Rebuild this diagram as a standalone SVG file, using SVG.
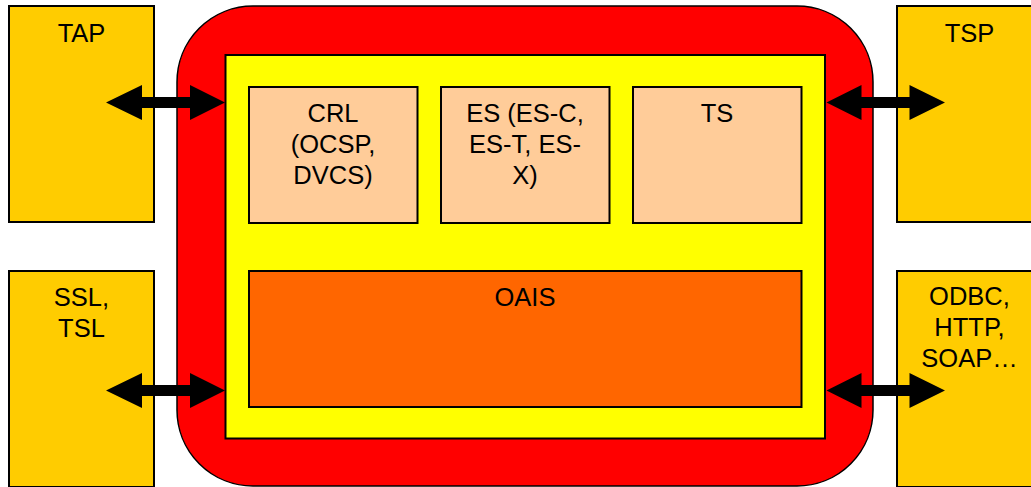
<svg xmlns="http://www.w3.org/2000/svg" width="1031" height="487" viewBox="0 0 1031 487">
<style>
.side{fill:#FFCC00;stroke:#000;stroke-width:2}
.inner{fill:#FFCC99;stroke:#000;stroke-width:2}
.t{font-family:"Liberation Sans",Arial,sans-serif;font-size:25.5px;fill:#000;text-anchor:middle}
.arr{fill:#000;stroke:none}
</style>
<rect x="0" y="0" width="1031" height="487" fill="#fff"/>
<g id="tap"><rect class="side" x="9" y="6" width="145" height="216"/><text class="t" x="81.5" y="41.5">TAP</text></g>
<g id="tsp"><rect class="side" x="897" y="6" width="145" height="216"/><text class="t" x="969.5" y="41.5">TSP</text></g>
<g id="ssl"><rect class="side" x="9" y="271" width="145" height="216"/><text class="t" x="81.5" y="305.5">SSL,</text><text class="t" x="81.5" y="336.5">TSL</text></g>
<g id="odbc"><rect class="side" x="897" y="271" width="145" height="216"/><text class="t" x="969.5" y="305">ODBC,</text><text class="t" x="969.5" y="336">HTTP,</text><text class="t" x="969.5" y="367">SOAP…</text></g>
<g id="core"><rect x="177" y="6" width="696" height="480" rx="76" ry="76" fill="#FF0000" stroke="#000" stroke-width="1.5"/></g>
<g id="platform"><rect x="225.5" y="55" width="599.5" height="383.5" fill="#FFFF00" stroke="#000" stroke-width="2"/></g>
<g id="crl"><rect class="inner" x="249" y="87" width="168.5" height="136"/><text class="t" x="333" y="122">CRL</text><text class="t" x="333" y="153">(OCSP,</text><text class="t" x="333" y="184">DVCS)</text></g>
<g id="es"><rect class="inner" x="441" y="87" width="168.5" height="136"/><text class="t" x="525" y="122">ES (ES-C,</text><text class="t" x="525" y="153">ES-T, ES-</text><text class="t" x="525" y="184">X)</text></g>
<g id="ts"><rect class="inner" x="633" y="87" width="168.5" height="136"/><text class="t" x="717" y="122">TS</text></g>
<g id="oais"><rect x="249" y="271" width="552.5" height="136" fill="#FF6600" stroke="#000" stroke-width="2"/><text class="t" x="525" y="306">OAIS</text></g>
<g id="connectors">
<polygon class="arr" points="106,102.5 142,85 142,97 190,97 190,85 225,102.5 190,120 190,108 142,108 142,120"/>
<polygon class="arr" points="106,390.5 142,373 142,385 190,385 190,373 225,390.5 190,408 190,396 142,396 142,408"/>
<polygon class="arr" points="826.5,102.5 861.5,85 861.5,97 909.5,97 909.5,85 945,102.5 909.5,120 909.5,108 861.5,108 861.5,120"/>
<polygon class="arr" points="826.5,390.5 861.5,373 861.5,385 909.5,385 909.5,373 945,390.5 909.5,408 909.5,396 861.5,396 861.5,408"/>
</g>
</svg>
